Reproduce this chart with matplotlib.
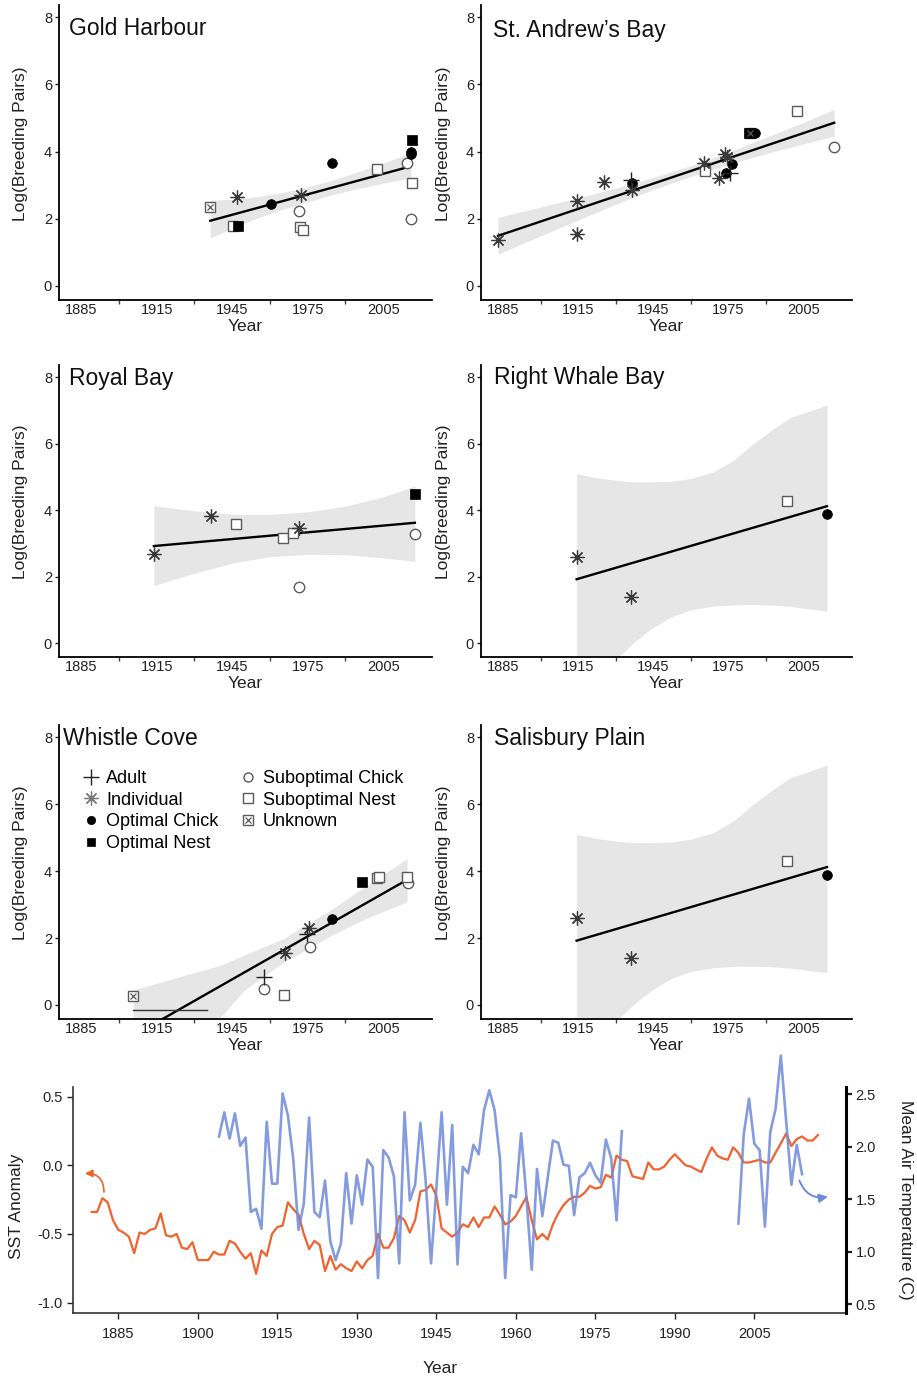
import numpy as np
import matplotlib
matplotlib.use("Agg")
import matplotlib.pyplot as plt
from matplotlib.lines import Line2D

plt.rcParams['font.family'] = ['Liberation Sans', 'DejaVu Sans']
plt.rcParams['axes.unicode_minus'] = False

# ---- colony counts: year, log(breeding pairs), count type ----
# A adult, I individual, OC optimal chick, ON optimal nest,
# SC suboptimal chick, SN suboptimal nest, U unknown
gh_year = [1936.3, 1946.9, 1945.5, 1947.5, 1960.6, 1972.3, 1971.7, 1972.0, 1973.0,
           1984.5, 2002.4, 2014.6, 2016.0, 2016.0, 2016.3, 2016.3, 2016.0]
gh_val = [2.35, 2.65, 1.78, 1.78, 2.43, 2.72, 2.23, 1.75, 1.65,
          3.65, 3.47, 3.67, 3.99, 3.93, 4.36, 3.05, 1.98]
gh_kind = ['U', 'I', 'SN', 'ON', 'OC', 'I', 'SC', 'SN', 'SN',
           'OC', 'SN', 'SC', 'OC', 'OC', 'ON', 'SN', 'SC']
gh_fit_x = [1936.3, 2015.4]
gh_fit_y = [1.94, 3.55]
gh_band_x = [1936.3, 1945, 1955, 1965, 1975, 1985, 1995, 2005, 2016]
gh_band_lo = [1.42, 1.72, 2.02, 2.28, 2.50, 2.72, 2.90, 3.06, 3.22]
gh_band_hi = [2.55, 2.58, 2.66, 2.78, 2.95, 3.15, 3.40, 3.66, 3.97]

sa_year = [1883.0, 1914.4, 1914.4, 1925.4, 1936.0, 1936.5, 1936.5, 1965.3, 1965.7,
           1971.4, 1973.6, 1974.5, 1974.0, 1975.6, 1976.3, 1983.3, 1983.5, 1985.6,
           2002.5, 2017.3]
sa_val = [1.36, 2.54, 1.53, 3.09, 3.15, 3.05, 2.85, 3.67, 3.42,
          3.22, 3.92, 3.85, 3.37, 3.35, 3.64, 4.55, 4.55, 4.55,
          5.20, 4.15]
sa_kind = ['I', 'I', 'I', 'I', 'A', 'OC', 'I', 'I', 'SN',
           'I', 'I', 'I', 'OC', 'A', 'OC', 'ON', 'U', 'OC',
           'SN', 'SC']
sa_fit_x = [1883.0, 2017.3]
sa_fit_y = [1.49, 4.86]
sa_band_x = [1883, 1900, 1915, 1930, 1945, 1960, 1975, 1990, 2005, 2017.3]
sa_band_lo = [0.94, 1.49, 1.96, 2.43, 2.87, 3.26, 3.62, 3.94, 4.23, 4.46]
sa_band_hi = [2.04, 2.35, 2.62, 2.91, 3.23, 3.58, 3.98, 4.42, 4.87, 5.26]

rb_year = [1913.9, 1936.5, 1946.4, 1965.2, 1969.0, 1971.6, 1971.6, 2017.6, 2017.6]
rb_val = [2.67, 3.82, 3.59, 3.17, 3.32, 3.47, 1.68, 4.48, 3.27]
rb_kind = ['I', 'I', 'SN', 'SN', 'SN', 'I', 'SC', 'ON', 'SC']
rb_fit_x = [1913.9, 2017.6]
rb_fit_y = [2.92, 3.62]
rb_band_x = [1913.9, 1930, 1946, 1960, 1975, 1990, 2005, 2017.6]
rb_band_lo = [1.73, 2.10, 2.42, 2.60, 2.67, 2.66, 2.56, 2.46]
rb_band_hi = [4.13, 3.98, 3.87, 3.87, 3.95, 4.12, 4.40, 4.73]

# Right Whale Bay and Salisbury Plain share the same counts
rw_year = [1914.4, 1936.3, 1998.5, 2014.4]
rw_val = [2.60, 1.39, 4.29, 3.87]
rw_kind = ['I', 'I', 'SN', 'OC']
rw_fit_x = [1914.4, 2014.4]
rw_fit_y = [1.92, 4.12]
rw_band_x = [1914.4, 1922, 1930, 1937, 1944, 1952, 1960, 1969, 1977, 1985, 1993, 2000, 2007, 2014.4]
rw_band_lo = [-1.30, -0.85, -0.50, 0.00, 0.42, 0.78, 1.00, 1.11, 1.15, 1.16, 1.14, 1.10, 1.03, 0.96]
rw_band_hi = [5.10, 4.98, 4.90, 4.85, 4.85, 4.87, 4.95, 5.15, 5.50, 6.00, 6.45, 6.80, 6.97, 7.17]

wc_year = [1905.7, 1957.7, 1957.7, 1965.6, 1965.9, 1975.5, 1974.9, 1975.8, 1984.5,
           1996.7, 2002.6, 2003.5, 2014.5, 2014.8]
wc_val = [0.28, 0.84, 0.47, 0.30, 1.54, 2.29, 2.12, 1.72, 2.58,
          3.68, 3.78, 3.81, 3.81, 3.63]
wc_kind = ['U', 'A', 'SC', 'SN', 'I', 'I', 'A', 'SC', 'OC',
           'ON', 'SN', 'SN', 'SN', 'SC']
wc_fit_x = [1905.7, 2014.5]
wc_fit_y = [-0.92, 3.74]
wc_band_x = [1905.7, 1920, 1930, 1940, 1950, 1965.6, 1985, 1998.6, 2014.5]
wc_band_lo = [-3.00, -2.00, -1.20, -0.40, 0.45, 1.28, 2.10, 2.60, 3.08]
wc_band_hi = [0.45, 0.75, 0.97, 1.17, 1.50, 1.99, 2.88, 3.58, 4.37]
wc_floor_x = [1905.7, 1935.0]
wc_floor_y = [-0.15, -0.15]

# ---- climate series ----
sst_years = list(range(1880, 2018))
sst_anom = [-0.34, -0.34, -0.24, -0.27, -0.40, -0.47, -0.49, -0.52, -0.64, -0.49,
            -0.50, -0.47, -0.46, -0.35, -0.51, -0.52, -0.50, -0.60, -0.61, -0.56,
            -0.69, -0.69, -0.69, -0.63, -0.65, -0.65, -0.55, -0.57, -0.63, -0.68,
            -0.64, -0.79, -0.62, -0.66, -0.50, -0.45, -0.44, -0.27, -0.32, -0.36,
            -0.50, -0.61, -0.55, -0.58, -0.77, -0.66, -0.76, -0.72, -0.75, -0.77,
            -0.70, -0.75, -0.69, -0.66, -0.50, -0.60, -0.60, -0.53, -0.37, -0.40,
            -0.49, -0.40, -0.19, -0.18, -0.14, -0.22, -0.46, -0.49, -0.52, -0.49,
            -0.43, -0.45, -0.38, -0.45, -0.38, -0.38, -0.30, -0.36, -0.43, -0.41,
            -0.37, -0.30, -0.23, -0.40, -0.54, -0.50, -0.54, -0.43, -0.35, -0.29,
            -0.25, -0.23, -0.23, -0.20, -0.15, -0.17, -0.16, -0.07, -0.09, 0.07,
            0.04, 0.03, -0.08, -0.09, -0.10, 0.02, -0.03, -0.03, -0.01, 0.04,
            0.08, 0.04, 0.00, -0.01, -0.03, -0.05, 0.05, 0.13, 0.07, 0.05,
            0.04, 0.13, 0.09, 0.02, 0.02, 0.03, 0.04, 0.02, 0.02, 0.09,
            0.16, 0.23, 0.14, 0.19, 0.21, 0.18, 0.18, 0.22]

air_years_early = list(range(1904, 1981))
air_temp_early = [2.10, 2.33, 2.08, 2.32, 2.01, 2.09, 1.38, 1.41, 1.22, 2.24,
                  1.65, 1.65, 2.51, 2.30, 1.89, 1.21, 1.46, 2.28, 1.38, 1.33,
                  1.68, 1.10, 0.92, 1.08, 1.75, 1.27, 1.73, 1.45, 1.88, 1.81,
                  0.75, 1.97, 1.90, 1.72, 0.89, 2.33, 1.49, 1.64, 2.23, 1.67,
                  0.89, 1.60, 2.33, 1.45, 2.21, 0.88, 1.81, 1.75, 2.02, 1.93,
                  2.35, 2.54, 2.35, 1.89, 0.75, 1.54, 1.52, 2.13, 1.52, 0.83,
                  1.79, 1.34, 1.70, 2.06, 2.04, 1.83, 1.82, 1.35, 1.71, 1.75,
                  1.85, 1.73, 1.66, 2.07, 1.89, 1.30, 2.15]
air_years_late = list(range(2002, 2015))
air_temp_late = [1.27, 2.12, 2.46, 2.03, 1.97, 1.24, 2.14, 2.36, 2.87, 2.25,
                 1.64, 2.02, 1.74]

BAND = '#e6e6e6'
ORANGE = '#f2622e'
BLUE = '#6f8ad8'
OPEN_EDGE = '#5a5a5a'

STYLES = {
    'A': dict(marker='+', ms=11, mew=1.0, color='#222222'),
    'I': dict(marker=(8, 2, 0), ms=10, mew=0.9, color='#3a3a3a'),
    'OC': dict(marker='o', ms=7, mew=0.5, color='black'),
    'ON': dict(marker='s', ms=7, mew=0.5, color='black'),
    'SC': dict(marker='o', ms=7.5, mew=1.0, mec=OPEN_EDGE, mfc='white', color=OPEN_EDGE),
    'SN': dict(marker='s', ms=7.5, mew=1.0, mec=OPEN_EDGE, mfc='white', color=OPEN_EDGE),
    'U': dict(marker='s', ms=7.5, mew=1.0, mec=OPEN_EDGE, mfc='white', color=OPEN_EDGE),
}
UNKNOWN_X = dict(marker='x', ms=5, mew=0.9, color=OPEN_EDGE)


def colony_panel(ax, title, tx, ty, years, vals, kinds,
                 fit_x, fit_y, band_x, band_lo, band_hi):
    ax.fill_between(band_x, band_lo, band_hi, color=BAND, lw=0, zorder=1)
    ax.plot(fit_x, fit_y, color='black', lw=1.7, zorder=2)
    years = np.asarray(years)
    vals = np.asarray(vals)
    kinds = np.asarray(kinds)
    for k in ['SC', 'SN', 'U', 'ON', 'OC', 'I', 'A']:
        sel = kinds == k
        if not sel.any():
            continue
        ax.plot(years[sel], vals[sel], ls='none', zorder=3, **STYLES[k])
        if k == 'U':
            ax.plot(years[sel], vals[sel], ls='none', zorder=4, **UNKNOWN_X)

    ax.set_xlim(1876.2, 2024.4)
    ax.set_ylim(-0.42, 8.37)
    ax.set_xticks([1885, 1915, 1945, 1975, 2005])
    ax.set_xticks([1900, 1930, 1960, 1990], minor=True)
    ax.tick_params(axis='x', which='major', length=0, pad=2.5, labelsize=10.5, colors='#222222')
    ax.tick_params(axis='x', which='minor', length=3, width=1.0, color='#444444')
    ax.set_yticks([0, 2, 4, 6, 8])
    ax.tick_params(axis='y', length=3, width=1.0, pad=2, labelsize=10.5, colors='#222222')
    for s in ['top', 'right']:
        ax.spines[s].set_visible(False)
    for s in ['left', 'bottom']:
        ax.spines[s].set_linewidth(1.3)
    ax.set_xlabel('Year', fontsize=12.5, labelpad=1, color='#222222')
    ax.set_ylabel('Log(Breeding Pairs)', fontsize=12.5, color='#222222')
    ax.yaxis.set_label_coords(-0.082, 0.53)
    ax.text(tx, ty, title, fontsize=16.5, ha='left', va='center', color='#111111')


fig = plt.figure(figsize=(9.17, 13.79), dpi=100)

col_l, col_r = 0.0643, 0.5245
w_l, w_r = 0.4068, 0.4046
rows = [(0.7825, 0.2139), (0.5236, 0.2117), (0.2611, 0.2132)]

ax_gh = fig.add_axes([col_l, rows[0][0], w_l, rows[0][1]])
ax_sa = fig.add_axes([col_r, rows[0][0], w_r, rows[0][1]])
ax_rb = fig.add_axes([col_l, rows[1][0], w_l, rows[1][1]])
ax_rw = fig.add_axes([col_r, rows[1][0], w_r, rows[1][1]])
ax_wc = fig.add_axes([col_l, rows[2][0], w_l, rows[2][1]])
ax_sp = fig.add_axes([col_r, rows[2][0], w_r, rows[2][1]])

colony_panel(ax_gh, 'Gold Harbour', 1880, 7.66, gh_year, gh_val, gh_kind,
             gh_fit_x, gh_fit_y, gh_band_x, gh_band_lo, gh_band_hi)
colony_panel(ax_sa, 'St. Andrew\u2019s Bay', 1881, 7.62, sa_year, sa_val, sa_kind,
             sa_fit_x, sa_fit_y, sa_band_x, sa_band_lo, sa_band_hi)
colony_panel(ax_rb, 'Royal Bay', 1880, 7.97, rb_year, rb_val, rb_kind,
             rb_fit_x, rb_fit_y, rb_band_x, rb_band_lo, rb_band_hi)
colony_panel(ax_rw, 'Right Whale Bay', 1881.3, 7.99, rw_year, rw_val, rw_kind,
             rw_fit_x, rw_fit_y, rw_band_x, rw_band_lo, rw_band_hi)
colony_panel(ax_wc, 'Whistle Cove', 1877.7, 7.96, wc_year, wc_val, wc_kind,
             wc_fit_x, wc_fit_y, wc_band_x, wc_band_lo, wc_band_hi)
colony_panel(ax_sp, 'Salisbury Plain', 1881.3, 7.96, rw_year, rw_val, rw_kind,
             rw_fit_x, rw_fit_y, rw_band_x, rw_band_lo, rw_band_hi)
ax_wc.plot(wc_floor_x, wc_floor_y, color='#333333', lw=1.0, zorder=2)

# legend for count types
handles = [
    Line2D([], [], ls='none', **STYLES['A']),
    Line2D([], [], ls='none', **dict(STYLES['I'], color='#777777')),
    Line2D([], [], ls='none', **dict(STYLES['OC'], ms=6)),
    Line2D([], [], ls='none', **dict(STYLES['ON'], ms=6)),
    Line2D([], [], ls='none', **dict(STYLES['SC'], ms=6.5)),
    Line2D([], [], ls='none', **dict(STYLES['SN'], ms=6.5)),
    (Line2D([], [], ls='none', **dict(STYLES['U'], ms=6.5)),
     Line2D([], [], ls='none', **dict(UNKNOWN_X, ms=4.5))),
]
labels = ['Adult', 'Individual', 'Optimal Chick', 'Optimal Nest',
          'Suboptimal Chick', 'Suboptimal Nest', 'Unknown']
ax_wc.legend(handles, labels, ncol=2, loc='upper left', bbox_to_anchor=(0.062, 0.847),
             frameon=False, fontsize=13, handlelength=1.0, handletextpad=0.35,
             columnspacing=1.1, labelspacing=0.26, borderpad=0, borderaxespad=0)

# ---- SST anomaly and air temperature ----
ax_t = fig.add_axes([0.0793, 0.0481, 0.8433, 0.164])
ax_a = ax_t.twinx()

ax_t.plot(sst_years, sst_anom, color=ORANGE, lw=1.6, zorder=2)
ax_a.plot(air_years_early, air_temp_early, color=BLUE, lw=1.9, alpha=0.85, clip_on=False)
ax_a.plot(air_years_late, air_temp_late, color=BLUE, lw=1.9, alpha=0.85, clip_on=False)

ax_t.set_xlim(1876.4, 2022.3)
ax_t.set_ylim(-1.073, 0.573)
ax_a.set_ylim(0.42, 2.576)
ax_t.set_xticks(list(range(1885, 2006, 15)))
ax_t.set_yticks([-1.0, -0.5, 0.0, 0.5])
ax_t.set_yticklabels(['-1.0', '-0.5', '0.0', '0.5'])
ax_a.set_yticks([0.5, 1.0, 1.5, 2.0, 2.5])
ax_a.set_yticklabels(['0.5', '1.0', '1.5', '2.0', '2.5'])
ax_t.tick_params(axis='both', length=4, width=1.0, labelsize=10.5, colors='#222222', pad=3)
ax_a.tick_params(axis='y', length=4, width=1.6, labelsize=10.5, colors='#222222', pad=3)
ax_t.tick_params(axis='x', pad=6)
for s in ['top', 'right']:
    ax_t.spines[s].set_visible(False)
for s in ['left', 'bottom']:
    ax_t.spines[s].set_linewidth(1.2)
    ax_t.spines[s].set_color('#333333')
for s in ['top', 'left', 'bottom']:
    ax_a.spines[s].set_visible(False)
ax_a.spines['right'].set_linewidth(2.2)

ax_t.set_ylabel('SST Anomaly', fontsize=12.5, color='#222222')
ax_t.yaxis.set_label_coords(-0.063, 0.47)
ax_a.set_ylabel('Mean Air Temperature (C)', fontsize=12.5, rotation=-90, color='#222222')
ax_a.yaxis.set_label_coords(1.086, 0.5)
ax_t.set_xlabel('Year', fontsize=12.5, color='#222222')
ax_t.xaxis.set_label_coords(0.475, -0.215)

ax_t.annotate('', xy=(1878.7, -0.06), xytext=(1882.3, -0.195),
              arrowprops=dict(arrowstyle='-|>', color=ORANGE, lw=1.2,
                              mutation_scale=11, connectionstyle='arc3,rad=0.5',
                              shrinkA=0, shrinkB=0))
ax_a.annotate('', xy=(2018.9, 1.525), xytext=(2013.5, 1.68),
              arrowprops=dict(arrowstyle='-|>', color=BLUE, lw=1.4,
                              mutation_scale=13, connectionstyle='arc3,rad=0.4',
                              shrinkA=0, shrinkB=0))

fig.savefig('out.png', dpi=100, facecolor='white')
